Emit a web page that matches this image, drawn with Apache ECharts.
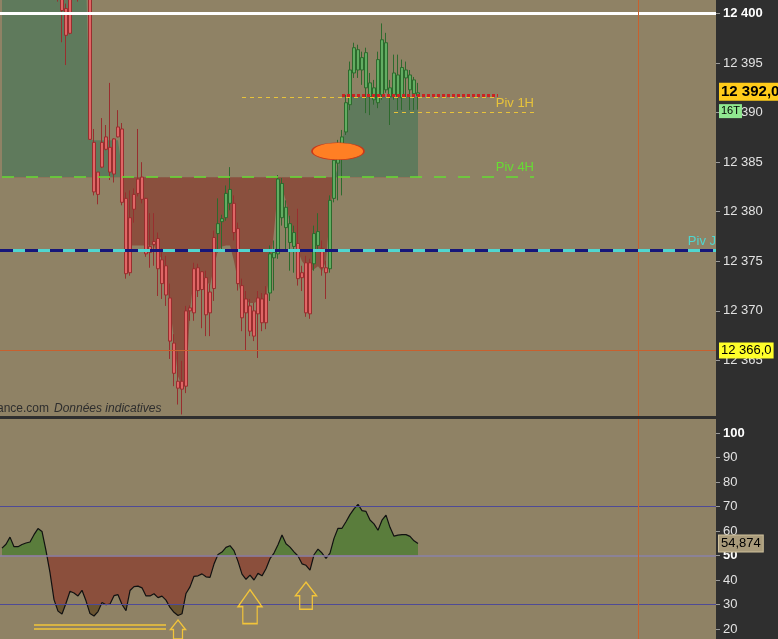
<!DOCTYPE html>
<html>
<head>
<meta charset="utf-8">
<script src="https://cdn.jsdelivr.net/npm/echarts@6/dist/echarts.min.js"></script>
<style>
html, body { margin: 0; padding: 0; background: #2f2f2f; }
#chart { width: 778px; height: 639px; }
</style>
</head>
<body>
<div id="chart"></div>
<script>
// bougies 1 min : [ouverture, clôture, plus bas, plus haut]
var candles = [
  [12404.6, 12406.0, 12403.9, 12406.8], [12406.0, 12405.2, 12404.5, 12407.1],
  [12405.2, 12407.3, 12404.8, 12408.0], [12407.3, 12406.1, 12405.4, 12408.2],
  [12406.1, 12404.8, 12404.0, 12406.9], [12404.8, 12405.9, 12403.7, 12406.5],
  [12405.9, 12407.0, 12405.1, 12407.8], [12407.0, 12405.5, 12404.9, 12407.6],
  [12405.5, 12404.3, 12403.6, 12406.2], [12404.3, 12405.8, 12403.9, 12406.4],
  [12405.8, 12406.6, 12405.0, 12407.5], [12406.6, 12405.0, 12404.4, 12407.0],
  [12405.0, 12404.1, 12403.2, 12405.7], [12404.1, 12405.2, 12402.8, 12405.9],
  [12404.0, 12403.0, 12401.2, 12405.0], [12403.2, 12400.3, 12397.1, 12404.0],
  [12400.5, 12397.8, 12394.8, 12401.0], [12402.5, 12398.0, 12397.9, 12403.0],
  [12402.6, 12404.4, 12401.8, 12405.0], [12404.4, 12403.1, 12401.2, 12405.3],
  [12403.1, 12405.0, 12402.5, 12406.0], [12405.0, 12403.5, 12402.9, 12406.0],
  [12403.5, 12387.3, 12387.3, 12404.0], [12387.0, 12382.0, 12381.65, 12388.35],
  [12384.0, 12381.75, 12380.75, 12384.0], [12387.0, 12384.5, 12384.4, 12389.45],
  [12387.55, 12386.3, 12386.2, 12388.75], [12386.5, 12384.0, 12383.2, 12393.0],
  [12387.35, 12383.8, 12382.95, 12387.4], [12388.55, 12387.55, 12387.5, 12390.25],
  [12388.35, 12380.95, 12380.65, 12388.95], [12381.35, 12373.75, 12373.25, 12381.95],
  [12379.4, 12373.85, 12373.55, 12382.15], [12381.75, 12380.25, 12378.9, 12382.35],
  [12383.3, 12381.85, 12381.55, 12388.35], [12383.5, 12381.25, 12380.85, 12385.0],
  [12381.35, 12375.75, 12375.45, 12381.4], [12376.5, 12375.9, 12374.35, 12379.85],
  [12377.0, 12376.7, 12374.55, 12379.85], [12377.3, 12374.25, 12371.5, 12377.9],
  [12375.15, 12372.75, 12371.2, 12376.3], [12374.55, 12371.6, 12370.5, 12375.55],
  [12371.3, 12366.95, 12365.15, 12372.75], [12366.75, 12363.7, 12362.4, 12367.65],
  [12362.9, 12362.2, 12360.55, 12365.9], [12362.9, 12362.1, 12359.55, 12364.95],
  [12370.0, 12362.4, 12361.7, 12370.5], [12370.3, 12370.0, 12369.0, 12370.55],
  [12374.25, 12369.8, 12369.0, 12374.85], [12374.35, 12372.05, 12371.4, 12374.75],
  [12373.95, 12372.15, 12368.25, 12374.0], [12373.35, 12369.6, 12367.45, 12374.05],
  [12371.9, 12369.8, 12367.45, 12372.7], [12377.4, 12372.25, 12371.0, 12378.1],
  [12377.8, 12378.8, 12375.9, 12381.35], [12379.0, 12379.3, 12376.1, 12379.7],
  [12379.4, 12381.85, 12379.1, 12382.65], [12380.85, 12382.25, 12380.15, 12384.5],
  [12380.85, 12377.9, 12377.1, 12381.65], [12378.3, 12372.75, 12372.05, 12378.9],
  [12372.55, 12369.3, 12367.95, 12373.25], [12371.2, 12369.8, 12365.95, 12372.0],
  [12370.5, 12367.95, 12367.45, 12371.2], [12370.0, 12367.45, 12366.95, 12370.8],
  [12371.3, 12369.7, 12365.25, 12372.0], [12371.2, 12368.8, 12367.95, 12371.8],
  [12371.7, 12368.8, 12368.15, 12372.5], [12371.8, 12375.75, 12371.0, 12376.6],
  [12375.35, 12375.9, 12372.05, 12377.1], [12375.75, 12383.3, 12375.25, 12383.7],
  [12379.4, 12382.85, 12378.6, 12383.4], [12378.4, 12380.45, 12376.1, 12381.15],
  [12376.9, 12378.8, 12374.05, 12379.6], [12376.5, 12377.9, 12373.85, 12378.6],
  [12376.8, 12373.25, 12372.55, 12380.3], [12373.85, 12373.35, 12372.0, 12374.55],
  [12374.85, 12369.8, 12369.4, 12375.55], [12374.85, 12369.7, 12369.2, 12375.25],
  [12374.75, 12377.8, 12374.05, 12378.6], [12376.6, 12378.0, 12376.1, 12379.85],
  [12376.3, 12374.35, 12373.55, 12377.1], [12374.35, 12373.85, 12371.2, 12375.05],
  [12374.25, 12381.15, 12373.85, 12381.65], [12381.35, 12385.2, 12380.95, 12385.7],
  [12384.9, 12386.4, 12381.15, 12387.25], [12386.5, 12387.55, 12381.65, 12388.25],
  [12388.05, 12391.0, 12387.75, 12391.8], [12390.8, 12394.3, 12390.25, 12395.15],
  [12394.0, 12396.55, 12393.5, 12397.05], [12394.3, 12396.35, 12393.5, 12396.85],
  [12394.3, 12395.55, 12392.8, 12396.15], [12392.5, 12396.05, 12389.95, 12396.55],
  [12391.6, 12393.0, 12389.75, 12394.0], [12391.3, 12392.5, 12390.8, 12393.3],
  [12391.0, 12395.35, 12390.45, 12396.15], [12391.8, 12397.35, 12391.3, 12399.0],
  [12392.3, 12397.05, 12392.0, 12398.05], [12391.6, 12392.5, 12388.75, 12393.3],
  [12391.8, 12394.0, 12391.3, 12395.85], [12391.6, 12393.8, 12390.25, 12395.85],
  [12391.5, 12394.55, 12390.25, 12395.35], [12393.5, 12394.3, 12391.5, 12395.15],
  [12392.3, 12393.8, 12390.25, 12394.3], [12391.9, 12393.3, 12390.25, 12393.6],
  [12391.7, 12392.0, 12390.3, 12393.0]
];

// zone colorée autour du pivot 4H
var fillLine = [
  12404, 12404, 12404, 12404, 12404, 12404, 12404, 12404, 12404, 12404,
  12404, 12404, 12404, 12404, 12404, 12404, 12404, 12404, 12404, 12404,
  12404, 12404, 12387.3, 12387.2, 12387.2, 12387.2, 12387.2, 12387.2, 12387.2, 12387.2,
  12384.2, 12378.0, 12376.6, 12376.6, 12376.6, 12376.6, 12376.6, 12376.6, 12376.6, 12375.6,
  12375.3, 12373.0, 12370.5, 12367.0, 12363.4, 12362.4, 12362.4, 12370.0, 12373.5, 12373.8,
  12373.7, 12373.2, 12372.5, 12374.5, 12376.1, 12376.5, 12376.6, 12376.6, 12375.0, 12373.0,
  12371.3, 12371.0, 12370.8, 12370.8, 12371.0, 12371.0, 12371.2, 12374.0, 12378.0, 12382.5,
  12382.5, 12381.0, 12378.6, 12377.5, 12376.0, 12375.0, 12374.5, 12374.0, 12374.2, 12374.5,
  12374.0, 12375.0, 12380.0, 12383.3, 12384.5, 12387.0, 12389.5, 12391.6, 12391.6, 12391.6,
  12391.6, 12391.6, 12391.6, 12391.6, 12391.6, 12391.6, 12391.6, 12391.6, 12391.6, 12391.6,
  12391.6, 12391.6, 12391.6, 12391.6, 12391.6
];

// oscillateur (panneau du bas)
var rsi = [
  53.0, 54.6, 57.5, 53.6, 53.6, 54.5, 55.1, 55.5, 58.5, 61.0,
  59.8, 52.0, 43.0, 32.0, 27.3, 26.1, 30.5, 35.4, 34.7, 33.5,
  35.8, 31.5, 26.3, 25.3, 27.1, 30.8, 29.9, 30.2, 33.6, 34.0,
  30.0, 27.5, 35.7, 37.3, 37.5, 36.8, 33.5, 33.5, 34.4, 32.8,
  33.4, 31.8, 28.8, 26.8, 25.5, 26.2, 34.5, 37.2, 41.5, 41.7,
  42.5, 41.3, 41.1, 46.5, 50.4, 51.4, 53.3, 54.0, 52.0, 47.6,
  42.4, 40.3, 42.0, 40.0, 42.7, 41.7, 44.6, 48.7, 51.0, 54.4,
  58.4, 54.8, 53.4, 51.5, 49.8, 46.6, 46.0, 44.0, 50.3, 52.6,
  51.0, 48.8, 51.0, 57.0, 61.1, 61.1, 63.8, 66.7, 69.0, 70.9,
  68.3, 68.0, 64.5, 62.9, 60.3, 64.4, 66.5, 61.5, 57.9, 58.3,
  58.5, 58.5, 57.8, 56.0, 54.874
];

var priceTicks = [12365, 12370, 12375, 12380, 12385, 12390, 12395, 12400];
var rsiTicks = [20, 30, 40, 50, 60, 70, 80, 90, 100];
var rsiLevels = [70, 50, 30];

var pivJ = 12376.08, piv4H = 12383.48, piv1H = 12390.0;
var lastPrice = 12392.1, crossPrice = 12366.0, lastRsi = 54.874;

var slots = [];
for (var i = 0; i < 179; i++) slots.push(String(i));

function fmtPrix(v) {
  var s = String(Math.round(v));
  return s.slice(0, 2) + ' ' + s.slice(2);
}

var orange = '#c8602e';
var tan = '#8f8265';
var noLine = { color: 'rgba(0,0,0,0)', width: 0 };
var arrowPath = 'path://M50 0 L100 50 L80 50 L80 100 L20 100 L20 50 L0 50 Z';
var arrowStyle = { color: 'rgba(0,0,0,0)', borderColor: '#f2c43a', borderWidth: 1.4 };

// étiquette de prix sur l'axe de droite
function tag(value, text, bg, size, bold, border) {
  return {
    yAxis: value, lineStyle: noLine,
    label: {
      show: true, position: 'end', distance: 3, formatter: text,
      backgroundColor: bg, color: '#000', fontSize: size, fontWeight: bold ? 'bold' : 'normal',
      fontFamily: 'Liberation Sans', padding: [2, 2, 1, 2],
      borderColor: border || 'transparent', borderWidth: border ? 1 : 0
    }
  };
}

function niveau(v) {
  var mid = v === 50;
  return { yAxis: v, lineStyle: { color: mid ? '#8a82a8' : '#4e4a96', width: mid ? 1.6 : 1.2, type: 'solid' } };
}

var chart = echarts.init(document.getElementById('chart'));

chart.setOption({
  backgroundColor: '#2f2f2f',
  animation: false,
  grid: [
    { left: 0, top: 0, width: 716, height: 416, show: true, backgroundColor: tan, borderWidth: 0 },
    { left: 0, top: 419, width: 716, height: 220, show: true, backgroundColor: tan, borderWidth: 0 }
  ],
  xAxis: [
    { type: 'category', gridIndex: 0, data: slots, show: false },
    { type: 'category', gridIndex: 1, data: slots, show: false }
  ],
  yAxis: [
    {
      type: 'value', gridIndex: 0, position: 'right',
      min: 12359.393, max: 12401.362,
      splitLine: { show: false }, axisLine: { show: false },
      axisTick: { show: true, length: 4, lineStyle: { color: '#9a9a9a' }, customValues: priceTicks },
      axisLabel: {
        customValues: priceTicks, color: '#e2e2e2', fontSize: 13, fontFamily: 'Liberation Sans', margin: 7,
        formatter: function (v) { return v === 12400 ? '{b|' + fmtPrix(v) + '}' : fmtPrix(v); },
        rich: { b: { fontWeight: 'bold', color: '#ffffff', fontSize: 13, fontFamily: 'Liberation Sans' } }
      }
    },
    {
      type: 'value', gridIndex: 1, position: 'right',
      min: 15.918, max: 105.714,
      splitLine: { show: false }, axisLine: { show: false },
      axisTick: { show: true, length: 4, lineStyle: { color: '#9a9a9a' }, customValues: rsiTicks },
      axisLabel: {
        customValues: rsiTicks, color: '#e2e2e2', fontSize: 13, fontFamily: 'Liberation Sans', margin: 7,
        formatter: function (v) { return (v === 100 || v === 50) ? '{b|' + v + '}' : String(v); },
        rich: { b: { fontWeight: 'bold', color: '#ffffff', fontSize: 13, fontFamily: 'Liberation Sans' } }
      }
    }
  ],
  visualMap: [
    {
      show: false, type: 'piecewise', seriesIndex: 0, dimension: 1,
      pieces: [{ gt: 12300, lte: piv4H, color: '#8a503e' }, { gt: piv4H, lte: 12500, color: '#5f7a5c' }]
    },
    {
      show: false, type: 'piecewise', seriesIndex: 2, dimension: 1,
      pieces: [{ gt: 0, lte: 30, color: '#6a5431' }, { gt: 30, lte: 50, color: '#8b4f3c' }, { gt: 50, lte: 100, color: '#5a7d3c' }]
    }
  ],
  graphic: [
    { type: 'text', x: 49, y: 409, style: { text: 'nance.com', align: 'right', verticalAlign: 'middle', fill: '#2e2e2e', font: '12px "Liberation Sans"' } },
    { type: 'text', x: 54, y: 409, style: { text: 'Données indicatives', verticalAlign: 'middle', fill: '#2e2e2e', font: 'italic 12px "Liberation Sans"' } }
  ],
  series: [
    {
      type: 'line', xAxisIndex: 0, yAxisIndex: 0, data: fillLine,
      symbol: 'none', silent: true, z: 1,
      lineStyle: { width: 0 },
      areaStyle: { origin: piv4H, opacity: 1 }
    },
    {
      type: 'candlestick', xAxisIndex: 0, yAxisIndex: 0, data: candles,
      barWidth: 3.8, z: 3, silent: true,
      itemStyle: { color: '#62ad62', color0: '#e06666', borderColor: '#2d6a2d', borderColor0: '#982e2e', borderWidth: 1 },
      markLine: {
        silent: true, symbol: ['none', 'none'], animation: false,
        label: { show: false },
        data: [
          { yAxis: 12400, lineStyle: { color: '#ffffff', width: 3, type: 'solid' } },
          { yAxis: crossPrice, lineStyle: { color: orange, width: 1, type: 'solid' } },
          { xAxis: 159, lineStyle: { color: orange, width: 1, type: 'solid' } },
          { yAxis: pivJ, lineStyle: { color: '#4fd6d0', width: 3, type: 'solid' } },
          {
            yAxis: pivJ, lineStyle: { color: '#16167a', width: 3, type: [13, 12] },
            label: { show: true, position: 'insideEndTop', formatter: 'Piv J', color: '#4fd6d0', fontSize: 13, fontFamily: 'Liberation Sans', distance: [0, 3] }
          },
          [
            {
              coord: [0, piv4H], lineStyle: { color: '#66dd33', width: 1.5, type: [12, 12] },
              label: { show: true, position: 'insideEndTop', formatter: 'Piv 4H', color: '#66dd33', fontSize: 13, fontFamily: 'Liberation Sans', distance: [0, 3] }
            },
            { coord: [133, piv4H] }
          ],
          [
            { coord: [60, 12391.6], lineStyle: { color: '#e8c33a', width: 1, type: [4, 4] } },
            { coord: [124, 12391.6] }
          ],
          [
            { coord: [85, 12391.75], lineStyle: { color: '#cc2222', width: 3, type: [3, 2] } },
            { coord: [124, 12391.75] }
          ],
          [
            {
              coord: [98, piv1H], lineStyle: { color: '#e8c33a', width: 1, type: [4, 4] },
              label: { show: true, position: 'insideEndTop', formatter: 'Piv 1H', color: '#e8c33a', fontSize: 13, fontFamily: 'Liberation Sans', distance: [0, 3] }
            },
            { coord: [133, piv1H] }
          ],
          tag(lastPrice, '12 392,0', '#ffcc1a', 15, true),
          tag(12390.15, '16T', '#90e890', 11, false),
          tag(crossPrice, '12 366,0', '#ffff2a', 13, false)
        ]
      },
      markPoint: {
        silent: true, animation: false, label: { show: false },
        data: [
          { coord: [84, 12386.1], symbol: 'circle', symbolSize: [52, 17], itemStyle: { color: '#ff7f24', borderColor: '#c8381a', borderWidth: 1 } }
        ]
      }
    },
    {
      type: 'line', xAxisIndex: 1, yAxisIndex: 1, data: rsi,
      symbol: 'none', silent: true, z: 2,
      lineStyle: { color: '#111111', width: 1.2 },
      areaStyle: { origin: 50, opacity: 1 }
    },
    {
      // repères du panneau du bas, hors de la visualMap
      type: 'line', xAxisIndex: 1, yAxisIndex: 1, data: [],
      symbol: 'none', silent: true, z: 4,
      markLine: {
        silent: true, symbol: ['none', 'none'], animation: false,
        label: { show: false },
        data: rsiLevels.map(niveau).concat([
          { xAxis: 159, lineStyle: { color: orange, width: 1, type: 'solid' } },
          [{ coord: [8, 21.86], lineStyle: { color: '#f2c43a', width: 1.5, type: 'solid' } }, { coord: [41, 21.86] }],
          [{ coord: [8, 20.24], lineStyle: { color: '#f2c43a', width: 1.5, type: 'solid' } }, { coord: [41, 20.24] }],
          tag(lastRsi, '54,874', '#a99b7b', 13, false, '#cfc19c')
        ])
      },
      markPoint: {
        silent: true, animation: false, label: { show: false },
        data: [
          { coord: [44, 19.8], symbol: arrowPath, symbolSize: [15, 19], itemStyle: arrowStyle },
          { coord: [62, 29.1], symbol: arrowPath, symbolSize: [24, 34], itemStyle: arrowStyle },
          { coord: [76, 33.6], symbol: arrowPath, symbolSize: [21, 27], itemStyle: arrowStyle }
        ]
      }
    }
  ]
});
</script>
</body>
</html>
